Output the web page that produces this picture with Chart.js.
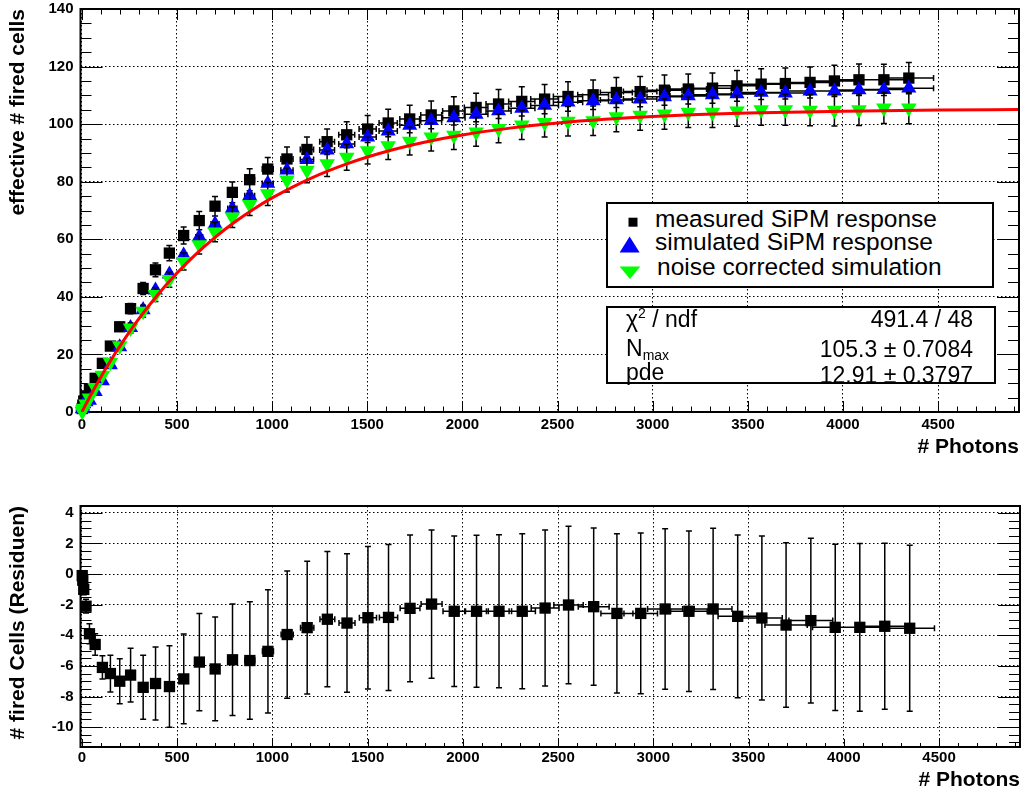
<!DOCTYPE html>
<html>
<head>
<meta charset="utf-8">
<script src="https://cdn.jsdelivr.net/npm/chart.js@4.4.1/dist/chart.umd.min.js"></script>
<style>
  body { margin: 0; background: #fff; }
  #wrap { position: relative; width: 1028px; height: 793px; overflow: hidden; font-family: "Liberation Sans", Arial, sans-serif; }
  canvas { position: absolute; left: 0; }
  #cTop { top: 0; }
  #cRes { top: 470px; }
  .box { position: absolute; background: #fff; border: 2px solid #000; box-sizing: border-box; z-index: 2; }
  #legend { left: 606px; top: 202px; width: 388px; height: 86px; }
  #stats { left: 606px; top: 306px; width: 390px; height: 78px; }
  .txt { position: absolute; font-size: 23px; line-height: 23px; white-space: nowrap; color: #000; }
  #legend .txt { font-size: 24.5px; line-height: 24.5px; }
  .val { right: 21px; text-align: right; }
  sup { font-size: 14px; vertical-align: 9px; line-height: 0; }
  sub { font-size: 14px; vertical-align: -4px; line-height: 0; }
</style>
</head>
<body>
<div id="wrap">
  <canvas id="cTop" width="1028" height="462"></canvas>
  <canvas id="cRes" width="1028" height="323"></canvas>

  <div class="box" id="legend">
    <svg width="40" height="82" style="position:absolute;left:0;top:0">
      <rect x="20.5" y="13.7" width="9" height="9" fill="#000"/>
      <polygon points="21.6,32.4 31.6,48.4 11.6,48.4" fill="#0000ff"/>
      <polygon points="11.6,62.4 32.3,62.4 22,75" fill="#00ff00"/>
    </svg>
    <div class="txt" style="left:47px;top:3px">measured SiPM response</div>
    <div class="txt" style="left:47px;top:26px">simulated SiPM response</div>
    <div class="txt" style="left:49px;top:51px">noise corrected simulation</div>
  </div>

  <div class="box" id="stats">
    <div class="txt" style="left:18px;top:0px">&chi;<sup>2</sup> / ndf</div>
    <div class="txt val" style="top:0px">491.4 / 48</div>
    <div class="txt" style="left:18px;top:29px">N<sub>max</sub></div>
    <div class="txt val" style="top:30px">105.3 &plusmn; 0.7084</div>
    <div class="txt" style="left:18px;top:53px">pde</div>
    <div class="txt val" style="top:56px">12.91 &plusmn; 0.3797</div>
  </div>
</div>

<script>
// Messpunkte (Anzahl Photonen) und Fehler in x
const photons = [2, 5, 10, 22, 40, 70, 108, 150, 199, 256, 322, 387, 460, 535, 617, 700, 791, 882, 977, 1078,
  1183, 1289, 1392, 1502, 1610, 1723, 1836, 1955, 2072, 2190, 2312, 2432, 2555, 2687, 2809, 2934, 3062, 3187,
  3314, 3443, 3570, 3697, 3827, 3955, 4084, 4215, 4346];
const photonErr = [0, 0, 0.5, 1, 1, 2, 3, 4, 6, 8, 10, 12, 14, 16, 18, 21, 24, 26, 29, 32,
  35, 39, 42, 45, 48, 52, 55, 59, 62, 66, 69, 73, 77, 81, 84, 88, 92, 96,
  99, 103, 107, 111, 115, 119, 123, 126, 130];

// effektive Anzahl gefeuerter Zellen
const measured = [1.2, 2.4, 3.8, 5.6, 7.9, 11.7, 16.9, 22.9, 29.6, 35.9, 42.9, 49.4, 55.2, 61.3, 66.5, 71.5, 76.3, 80.7, 84.4, 87.9,
  91.2, 93.9, 96.3, 98.3, 100.4, 101.8, 103.2, 104.6, 105.8, 107.0, 107.9, 108.7, 109.6, 110.2, 111.0, 111.3, 111.8, 112.2,
  112.5, 113.3, 113.9, 114.1, 114.5, 115.0, 115.4, 115.4, 116.0];
const simulated = [1.1, 2.0, 2.8, 3.5, 4.0, 7.1, 10.8, 16.4, 22.6, 29.3, 35.5, 42.3, 47.9, 54.5, 60.8, 65.3, 70.7, 75.1, 79.4, 84.0,
  87.7, 91.0, 93.1, 95.5, 97.6, 99.6, 101.2, 102.2, 103.4, 104.6, 105.5, 106.5, 107.6, 108.1, 108.4, 108.7, 109.5, 109.8,
  110.2, 110.5, 111.0, 110.8, 111.5, 111.5, 111.9, 112.0, 112.5];
const corrected = [0.3, 0.8, 1.3, 2.8, 4.9, 8.5, 12.8, 17.3, 23.0, 29.2, 35.0, 40.8, 46.0, 52.3, 58.1, 62.5, 67.7, 72.1, 75.8, 80.6,
  84.0, 86.2, 88.5, 90.8, 92.5, 94.1, 95.5, 96.1, 97.3, 98.5, 99.7, 100.6, 101.0, 101.2, 102.6, 103.1, 103.5, 104.1,
  104.1, 104.6, 105.0, 105.0, 104.8, 104.8, 105.0, 105.6, 105.6];
const cellErr = [0.2, 0.25, 0.35, 0.45, 0.65, 0.7, 0.76, 1.2, 1.47, 1.76, 2.09, 2.39, 2.66, 2.93, 3.18, 3.39, 3.64, 3.84, 4.02, 4.16,
  4.34, 4.42, 4.53, 4.66, 4.77, 4.8, 4.84, 4.92, 4.97, 5.0, 5.07, 5.1, 5.14, 5.14, 5.2, 5.25, 5.24, 5.24,
  5.27, 5.32, 5.36, 5.38, 5.38, 5.43, 5.48, 5.42, 5.43];

// Residuen
const residuals = [-0.1, -0.4, -1.0, -2.1, -3.9, -4.6, -6.1, -6.5, -7.0, -6.6, -7.4, -7.15, -7.35, -6.85, -5.75, -6.2, -5.6, -5.65, -5.05, -3.95,
  -3.5, -2.95, -3.2, -2.85, -2.83, -2.24, -1.96, -2.43, -2.43, -2.43, -2.43, -2.22, -2.02, -2.13, -2.57, -2.57, -2.28, -2.43,
  -2.28, -2.76, -2.87, -3.33, -3.04, -3.48, -3.48, -3.41, -3.54];

// Fitkurve
const fitX = [0, 50, 100, 150, 200, 300, 400, 500, 600, 700, 800, 900, 1000, 1200, 1400, 1600, 1800, 2000, 2250, 2500, 2750, 3000, 3500, 4000, 4500, 4920];
const fitN = [0, 6.27, 12.15, 17.69, 22.9, 32.41, 40.81, 48.26, 54.84, 60.66, 65.81, 70.37, 74.39, 81.11, 86.38, 90.5, 93.72, 96.23, 98.62, 100.39, 101.69, 102.64, 103.86, 104.52, 104.88, 105.05];

// Achsenbeschriftung
const xTicks = [0, 500, 1000, 1500, 2000, 2500, 3000, 3500, 4000, 4500];
const yTicksTop = [0, 20, 40, 60, 80, 100, 120, 140];
const yTicksRes = [-10, -8, -6, -4, -2, 0, 2, 4];

Chart.defaults.font.family = '"Liberation Sans", Arial, sans-serif';
Chart.defaults.color = '#000';

const pts = (xs, ys) => xs.map((x, i) => ({ x: x, y: ys[i] }));

// Fehlerbalken vor jedem Datensatz zeichnen
const errorBars = {
  id: 'errorBars',
  beforeDatasetDraw(chart, args) {
    const ds = chart.data.datasets[args.index];
    if (!ds.errY && !ds.errX) return;
    const { ctx, chartArea: a, scales: { x, y } } = chart;
    ctx.save();
    ctx.beginPath();
    ctx.rect(a.left, a.top, a.right - a.left, a.bottom - a.top);
    ctx.clip();
    ctx.strokeStyle = '#000';
    ctx.lineWidth = 1.5;
    ctx.beginPath();
    ds.data.forEach((p, i) => {
      const px = x.getPixelForValue(p.x);
      const py = y.getPixelForValue(p.y);
      const ey = ds.errY ? ds.errY[i] : 0;
      const ex = ds.errX ? ds.errX[i] : 0;
      if (ey) {
        const y1 = y.getPixelForValue(p.y + ey);
        const y2 = y.getPixelForValue(p.y - ey);
        ctx.moveTo(px, y1); ctx.lineTo(px, y2);
        ctx.moveTo(px - 3, y1); ctx.lineTo(px + 3, y1);
        ctx.moveTo(px - 3, y2); ctx.lineTo(px + 3, y2);
      }
      if (ex) {
        const x1 = x.getPixelForValue(p.x - ex);
        const x2 = x.getPixelForValue(p.x + ex);
        ctx.moveTo(x1, py); ctx.lineTo(x2, py);
        ctx.moveTo(x1, py - 3); ctx.lineTo(x1, py + 3);
        ctx.moveTo(x2, py - 3); ctx.lineTo(x2, py + 3);
      }
    });
    ctx.stroke();
    ctx.restore();
  }
};

// Rahmen und nach innen zeigende Ticks (ROOT-Stil)
const frameTicks = {
  id: 'frameTicks',
  beforeDatasetsDraw(chart, args, o) {
    const { ctx, chartArea: a, scales: { x, y } } = chart;
    const isMajor = (v, step) => Math.abs(v / step - Math.round(v / step)) < 1e-6;
    ctx.save();
    ctx.strokeStyle = '#000';
    ctx.lineWidth = 1;
    ctx.beginPath();
    for (let k = Math.ceil(x.min / o.xMinor); k * o.xMinor <= x.max; k++) {
      const v = k * o.xMinor;
      const px = Math.round(x.getPixelForValue(v)) + 0.5;
      const len = isMajor(v, o.xMajor) ? o.xLen : o.xLen / 2;
      ctx.moveTo(px, a.bottom); ctx.lineTo(px, a.bottom - len);
      if (o.topTicks) { ctx.moveTo(px, a.top); ctx.lineTo(px, a.top + len); }
    }
    for (let k = Math.ceil(y.min / o.yMinor); k * o.yMinor <= y.max + 1e-9; k++) {
      const v = k * o.yMinor;
      const py = Math.round(y.getPixelForValue(v)) + 0.5;
      const len = isMajor(v, o.yMajor) ? o.yLen : o.yLen / 2;
      ctx.moveTo(a.left, py); ctx.lineTo(a.left + len, py);
      ctx.moveTo(a.right, py); ctx.lineTo(a.right - len, py);
    }
    ctx.stroke();
    ctx.lineWidth = 2;
    ctx.strokeRect(a.left, a.top, a.right - a.left, a.bottom - a.top);
    ctx.restore();
  }
};

const tickFont = { size: 15, weight: 'bold', lineHeight: 1 };
const titleFont = { size: 21, weight: 'bold', lineHeight: 1.2 };
const gridOpts = { color: '#000', lineWidth: 1, drawTicks: false };
const borderOpts = { display: false, dash: [1.5, 2.5] };

function xAxis(height, pad, titlePad) {
  return {
    type: 'linear', min: -7, max: 4925,
    ticks: { font: tickFont, padding: pad, maxRotation: 0, autoSkip: false, callback: v => String(v) },
    grid: gridOpts, border: borderOpts,
    title: { display: true, text: '# Photons', align: 'end', font: titleFont, padding: { top: 0, bottom: titlePad } },
    afterBuildTicks: s => { s.ticks = xTicks.map(v => ({ value: v })); },
    afterFit: s => { s.height = height; s.paddingLeft = 0; s.paddingRight = 0; }
  };
}

function yAxis(min, max, tickList, title) {
  return {
    type: 'linear', min: min, max: max,
    ticks: { font: tickFont, padding: 7, autoSkip: false, callback: v => String(v) },
    grid: gridOpts, border: borderOpts,
    title: { display: true, text: title, align: 'end', font: titleFont, padding: { top: 6, bottom: 0 } },
    afterBuildTicks: s => { s.ticks = tickList.map(v => ({ value: v })); },
    afterFit: s => { s.width = 80.5; s.paddingTop = 0; s.paddingBottom = 0; }
  };
}

const common = {
  responsive: false,
  animation: false,
  events: [],
  plugins: { legend: { display: false }, tooltip: { enabled: false } }
};

new Chart(document.getElementById('cTop'), {
  type: 'scatter',
  data: {
    datasets: [
      { label: 'Fit', data: pts(fitX, fitN), showLine: true, borderColor: '#ff0000', borderWidth: 3,
        pointRadius: 0, cubicInterpolationMode: 'monotone', order: 1 },
      { label: 'noise corrected simulation', data: pts(photons, corrected), pointStyle: 'triangle', pointRotation: 180,
        pointRadius: 9, pointBackgroundColor: '#00ff00', pointBorderWidth: 0, errY: cellErr, clip: false, order: 2 },
      { label: 'simulated SiPM response', data: pts(photons, simulated), pointStyle: 'triangle',
        pointRadius: 8.7, pointBackgroundColor: '#0000ff', pointBorderWidth: 0, errX: photonErr, clip: false, order: 3 },
      { label: 'measured SiPM response', data: pts(photons, measured), pointStyle: 'rect',
        pointRadius: 8, pointBackgroundColor: '#000', pointBorderWidth: 0, errY: cellErr, errX: photonErr, clip: false, order: 4 }
    ]
  },
  options: Object.assign({}, common, {
    layout: { padding: { top: 8, right: 5, left: 0, bottom: 0 } },
    scales: { x: xAxis(50, 5, 2), y: yAxis(0, 140, yTicksTop, 'effective # fired cells') },
    plugins: Object.assign({}, common.plugins, {
      frameTicks: { xMajor: 500, xMinor: 100, xLen: 11, yMajor: 20, yMinor: 5, yLen: 22, topTicks: true }
    })
  }),
  plugins: [frameTicks, errorBars]
});

new Chart(document.getElementById('cRes'), {
  type: 'scatter',
  data: {
    datasets: [
      { label: 'Residuen', data: pts(photons, residuals), pointStyle: 'rect', pointRadius: 8,
        pointBackgroundColor: '#000', pointBorderWidth: 0, errY: cellErr, errX: photonErr, clip: false }
    ]
  },
  options: Object.assign({}, common, {
    layout: { padding: { top: 36, right: 5, left: 0, bottom: 0 } },
    scales: { x: xAxis(46, 3, 0), y: yAxis(-11.3, 4.45, yTicksRes, '# fired Cells (Residuen)') },
    plugins: Object.assign({}, common.plugins, {
      frameTicks: { xMajor: 500, xMinor: 100, xLen: 8, yMajor: 2, yMinor: 0.5, yLen: 22, topTicks: false }
    })
  }),
  plugins: [frameTicks, errorBars]
});
</script>
</body>
</html>
